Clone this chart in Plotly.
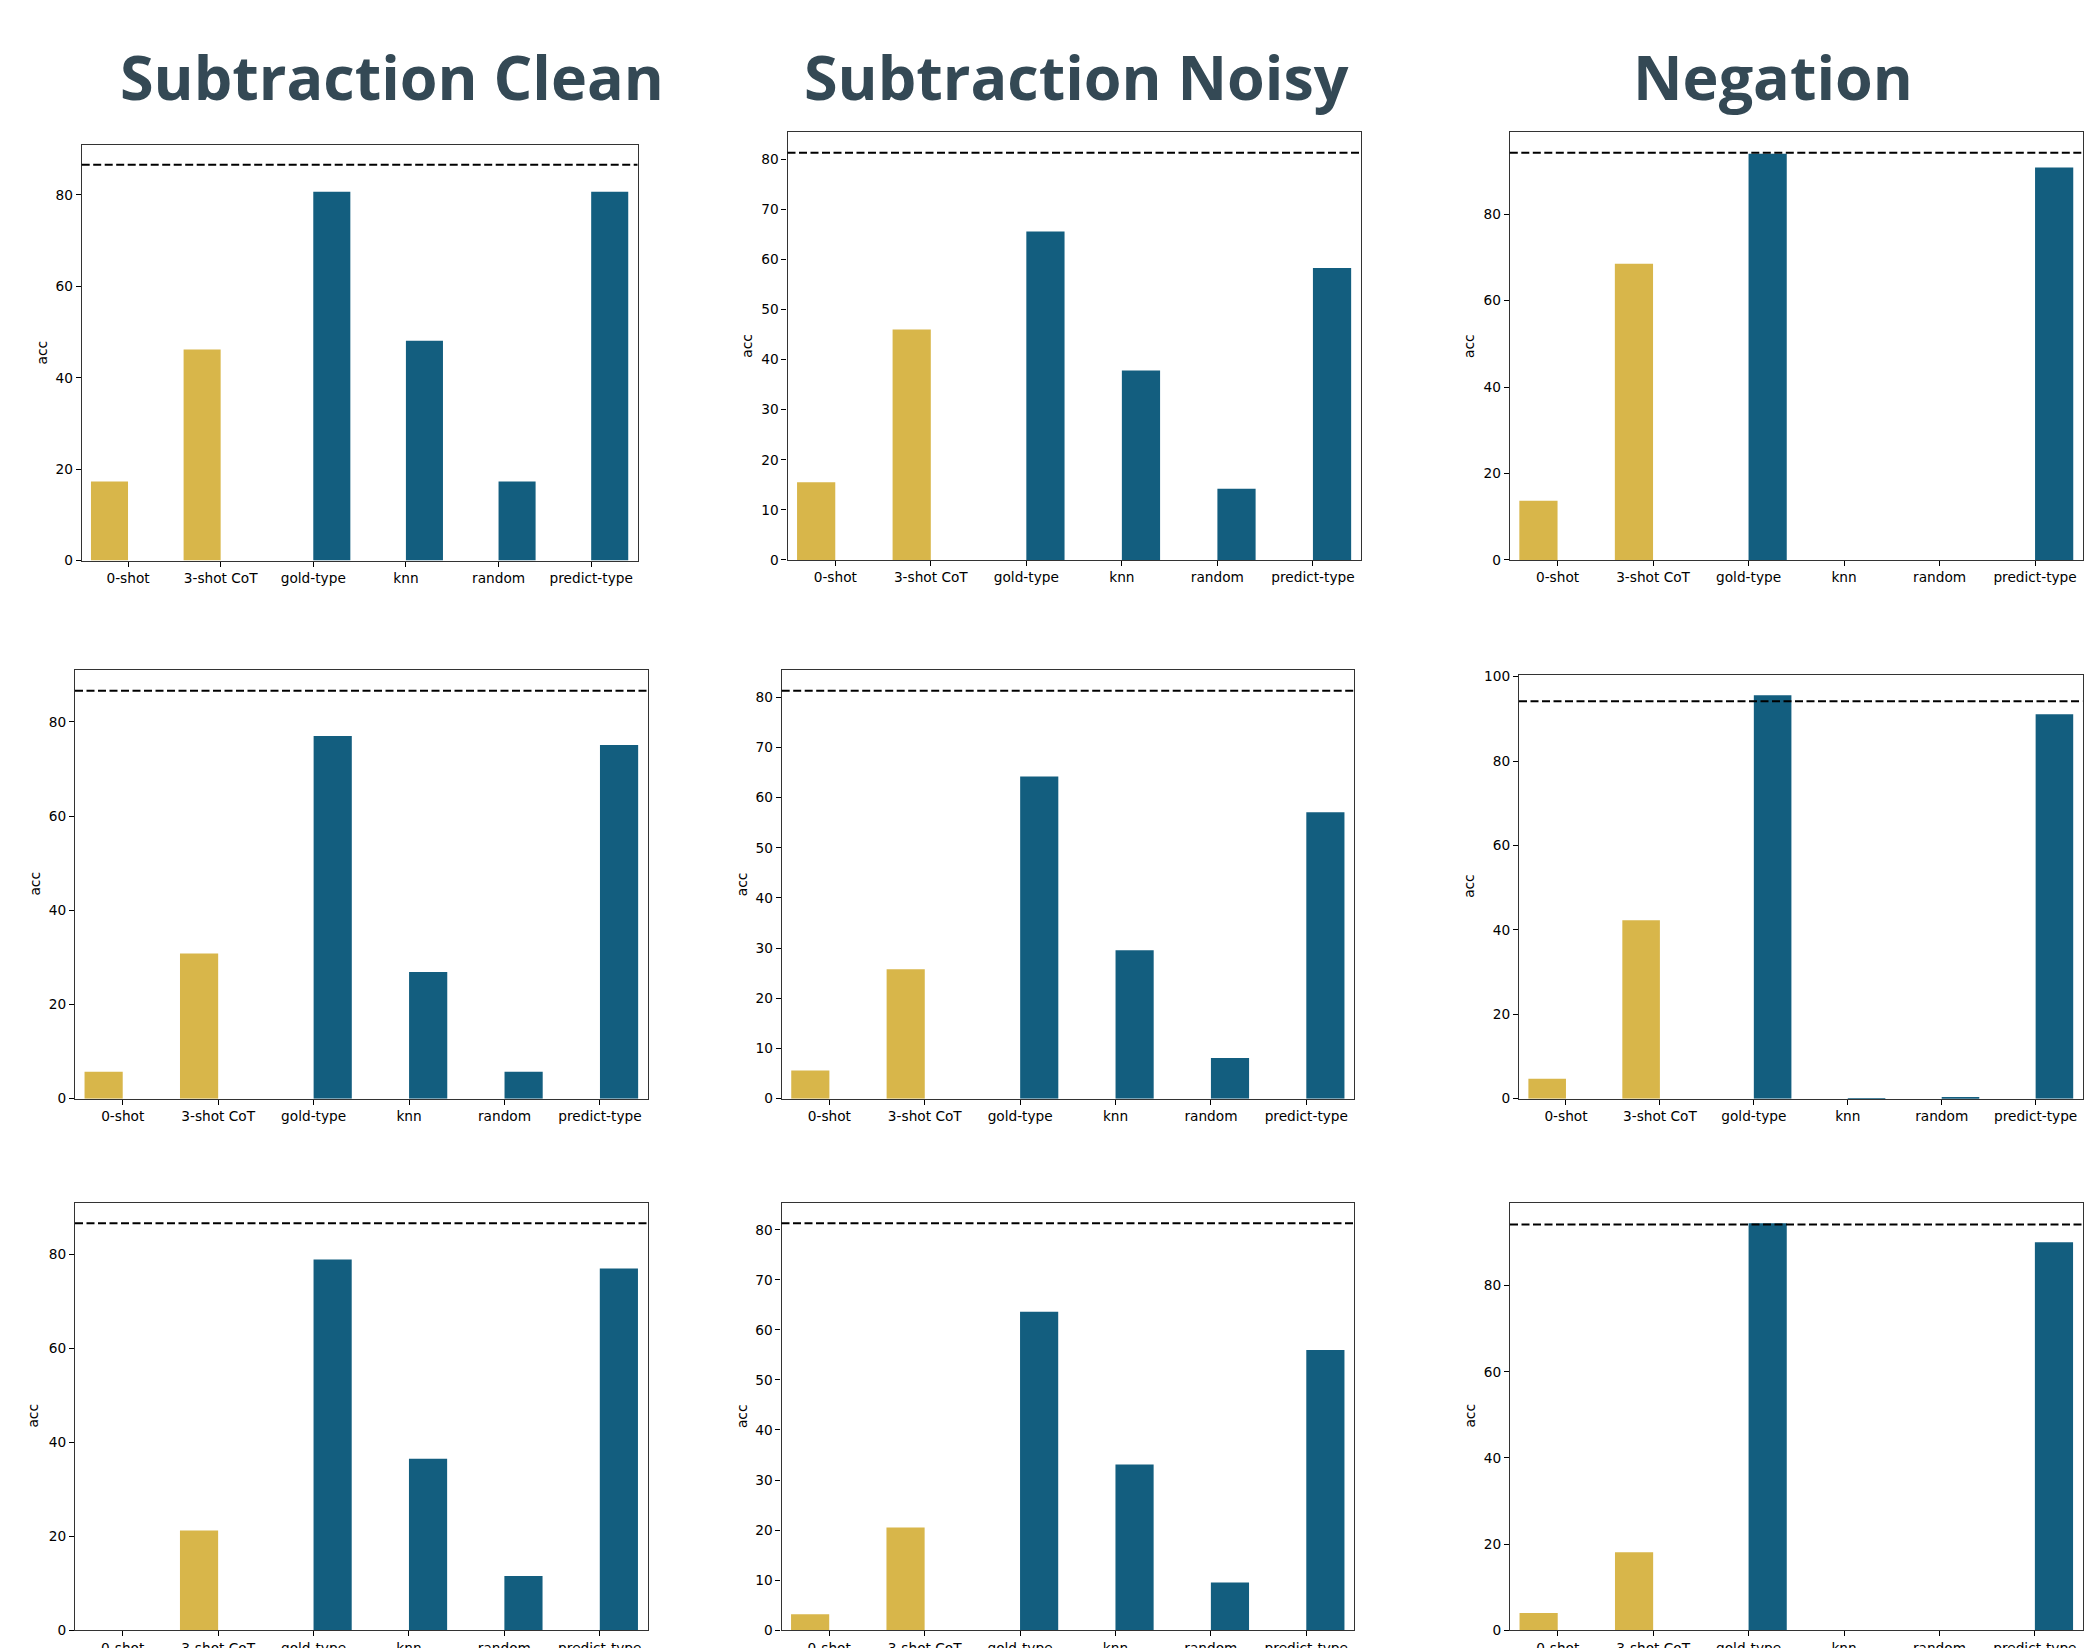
import plotly.graph_objects as go

W, H = 2100, 1648

categories = ["0-shot", "3-shot CoT", "gold-type", "knn", "random", "predict-type"]
prompt_methods = ["0-shot", "3-shot CoT"]  # drawn in yellow; rest in blue

task_titles = ["Subtraction Clean", "Subtraction Noisy", "Negation"]
baselines = [86.6, 81.3, 94.2]

# rows = three model settings, columns = tasks
sub_clean_r1 = [17.3, 46.2, 80.7, 48.1, 17.3, 80.7]
sub_noisy_r1 = [15.5, 46.0, 65.6, 37.8, 14.2, 58.3]
negation_r1 = [13.7, 68.5, 94.0, 0.0, 0.0, 90.8]
sub_clean_r2 = [5.7, 30.8, 77.0, 26.9, 5.7, 75.1]
sub_noisy_r2 = [5.6, 25.8, 64.2, 29.6, 8.1, 57.1]
negation_r2 = [4.7, 42.3, 95.6, 0.1, 0.3, 91.1]
sub_clean_r3 = [0.0, 21.2, 78.9, 36.5, 11.5, 77.0]
sub_noisy_r3 = [3.2, 20.5, 63.6, 33.1, 9.5, 56.0]
negation_r3 = [4.0, 18.1, 94.5, 0.0, 0.0, 90.1]

panels = [
    sub_clean_r1, sub_noisy_r1, negation_r1,
    sub_clean_r2, sub_noisy_r2, negation_r2,
    sub_clean_r3, sub_noisy_r3, negation_r3,
]

YELLOW = "#D8B64A"
BLUE = "#135E7F"
TITLE_COLOR = "#344955"

# panel boxes in pixels: (left, right, top, bottom)
boxes = [
    (73.7, 629.5, 131.7, 553.0), (779.5, 1352.7, 119.0, 552.3), (1501.8, 2074.8, 119.0, 552.3),
    (67.0, 639.7, 664.3, 1098.3), (773.7, 1346.0, 664.3, 1098.3), (1511.0, 2074.6, 669.0, 1098.3),
    (67.0, 639.5, 1204.0, 1637.0), (773.5, 1346.0, 1204.0, 1637.0), (1502.0, 2074.6, 1204.0, 1637.0),
]
dticks = [20, 10, 20, 20, 10, 20, 20, 10, 20]
acc_offsets = [40, 40, 41, 40, 40, 50, 42, 40, 40]

title_x = [384, 1068, 1765]
title_y = 62

fig = go.Figure()
layout = {}
tick_font = dict(family="DejaVu Sans", size=13.7, color="black")

for i, vals in enumerate(panels):
    n = i + 1
    xa = "x" if n == 1 else f"x{n}"
    ya = "y" if n == 1 else f"y{n}"
    col = i % 3
    yv = [v if c in prompt_methods else None for c, v in zip(categories, vals)]
    bv = [None if c in prompt_methods else v for c, v in zip(categories, vals)]
    fig.add_trace(go.Bar(x=categories, y=yv, marker=dict(color=YELLOW, line=dict(width=0)),
                         xaxis=xa, yaxis=ya, showlegend=False, name="prompt"))
    fig.add_trace(go.Bar(x=categories, y=bv, marker=dict(color=BLUE, line=dict(width=0)),
                         xaxis=xa, yaxis=ya, showlegend=False, name="type"))
    l, r, t, b = boxes[i]
    ymax = max(max(vals), baselines[col]) * 1.05
    axstyle = dict(showline=True, linecolor="#333333", linewidth=1.2, mirror=True,
                   ticks="outside", ticklen=5, tickwidth=1.1, tickcolor="black",
                   showgrid=False, zeroline=False, tickfont=tick_font)
    layout["xaxis" if n == 1 else f"xaxis{n}"] = dict(
        domain=[l / W, r / W], anchor=ya, type="category",
        categoryorder="array", categoryarray=categories,
        range=[-0.5, len(categories) - 0.5], **axstyle)
    layout["yaxis" if n == 1 else f"yaxis{n}"] = dict(
        domain=[1 - b / H, 1 - t / H], anchor=xa, range=[0, ymax],
        tick0=0, dtick=dticks[i], **axstyle)
    fig.add_shape(type="line", xref=f"{xa} domain", yref=ya, x0=0, x1=1,
                  y0=baselines[col], y1=baselines[col],
                  line=dict(color="black", width=2, dash="8px,3.5px"))
    fig.add_annotation(text="acc", xref=f"{xa} domain", yref=f"{ya} domain", x=0, y=0.5,
                       xshift=-acc_offsets[i], xanchor="center", yanchor="middle",
                       textangle=-90, showarrow=False,
                       font=dict(family="DejaVu Sans", size=13.7, color="black"))

for k, ttl in enumerate(task_titles):
    fig.add_annotation(text=ttl, xref="paper", yref="paper", x=title_x[k] / W,
                       y=1 - title_y / H, xanchor="center", yanchor="middle",
                       showarrow=False,
                       font=dict(family="Open Sans", size=61, color=TITLE_COLOR, weight="bold"))

fig.update_layout(**layout)
fig.update_layout(width=W, height=H, margin=dict(l=0, r=0, t=0, b=0),
                  paper_bgcolor="white", plot_bgcolor="white",
                  barmode="group", bargap=0.2, bargroupgap=0, showlegend=False)

fig.write_html("out.html")
